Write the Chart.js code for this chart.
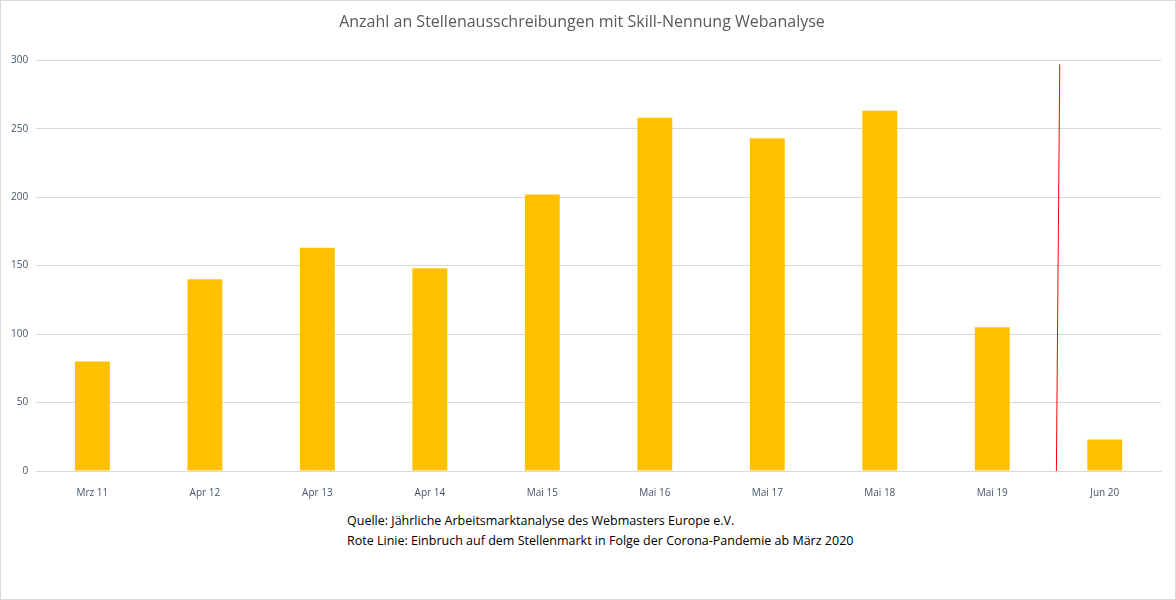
<!DOCTYPE html>
<html>
<head>
<meta charset="utf-8">
<script src="https://cdn.jsdelivr.net/npm/chart.js@4"></script>
<style>
  body { margin: 0; background: #fff; }
  #wrap { position: absolute; left: 0; top: 0; width: 1174px; height: 598px; border: 1px solid #d9d9d9; }
  #notes { position: absolute; left: 346px; top: 510px; font-family: 'Open Sans', 'Liberation Sans', sans-serif; font-size: 12.5px; line-height: 20px; color: #000; }
</style>
</head>
<body>
<div id="wrap">
  <canvas id="chart" width="1174" height="506"></canvas>
  <div id="notes">
    Quelle: Jährliche Arbeitsmarktanalyse des Webmasters Europe e.V.<br>
    Rote Linie: Einbruch auf dem Stellenmarkt in Folge der Corona-Pandemie ab März 2020
  </div>
</div>
<script>
const labels = ['Mrz 11', 'Apr 12', 'Apr 13', 'Apr 14', 'Mai 15', 'Mai 16', 'Mai 17', 'Mai 18', 'Mai 19', 'Jun 20'];
const values = [80, 140, 163, 148, 202, 258, 243, 263, 105, 23];
const yTicks = [0, 50, 100, 150, 200, 250, 300];
// red marker line: category position (bottom/top) and value range
const markerX = [8.57, 8.6];
const markerY = [0, 297];

// draws the red "Corona" line through the chart's own scales
const markerLine = {
    id: 'markerLine',
    afterDatasetsDraw(chart) {
        const { ctx, scales: { x, y } } = chart;
        ctx.save();
        ctx.strokeStyle = '#ff0000';
        ctx.lineWidth = 1;
        ctx.beginPath();
        ctx.moveTo(x.getPixelForValue(markerX[0]), y.getPixelForValue(markerY[0]));
        ctx.lineTo(x.getPixelForValue(markerX[1]), y.getPixelForValue(markerY[1]));
        ctx.stroke();
        ctx.restore();
    }
};

new Chart(document.getElementById('chart').getContext('2d'), {
    type: 'bar',
    data: {
        labels: labels,
        datasets: [{
            data: values,
            backgroundColor: '#ffc000',
            categoryPercentage: 1,
            barPercentage: 0.31
        }]
    },
    options: {
        responsive: false,
        animation: false,
        layout: { padding: { left: 2, right: 14, top: 2, bottom: 0 } },
        plugins: {
            legend: { display: false },
            tooltip: { enabled: false },
            title: {
                display: true,
                text: 'Anzahl an Stellenausschreibungen mit Skill-Nennung Webanalyse',
                color: '#595959',
                font: { family: "'Open Sans', sans-serif", size: 16, weight: 'normal' },
                padding: { top: 10, bottom: 28 }
            }
        },
        scales: {
            y: {
                min: 0, max: 300,
                afterBuildTicks: (s) => { s.ticks = yTicks.map(v => ({ value: v })); },
                ticks: { color: '#44546a', font: { family: "'Open Sans', sans-serif", size: 10 }, padding: 8 },
                grid: { color: '#d9d9d9', drawTicks: false },
                border: { display: false }
            },
            x: {
                ticks: { color: '#44546a', font: { family: "'Open Sans', sans-serif", size: 10 }, padding: 8 },
                grid: { display: false },
                border: { color: '#d9d9d9' }
            }
        }
    },
    plugins: [markerLine]
});
</script>
</body>
</html>
